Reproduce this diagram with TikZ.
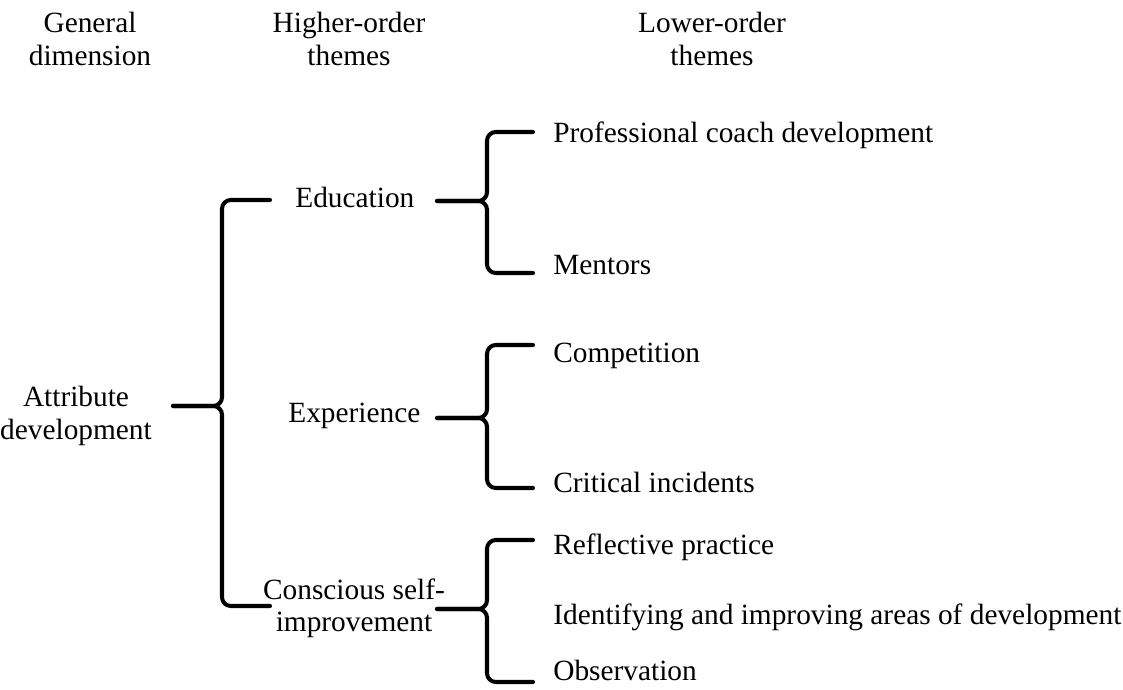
\documentclass[tikz,border=0pt]{standalone}
\usepackage{fontspec}
\setmainfont{Liberation Serif}

\begin{document}
\begin{tikzpicture}[font=\fontsize{16.7}{18.4}\selectfont,
  hdr/.style={align=center,inner sep=0pt,anchor=north},
  thm/.style={inner sep=0pt,anchor=base west},
  brace/.style={line width=2.3pt,rounded corners=5pt,line cap=round}]
\useasboundingbox (0,0) rectangle (22.46,13.8);

%============================== column heads ==============================
\node[hdr] (gen) at (1.80,13.56) {General\\dimension};
\node[hdr] (hig) at (6.98,13.56) {Higher-order\\themes};
\node[hdr] (low) at (14.24,13.56) {Lower-order\\themes};

%============================== the dimension and its themes ==============================
\node[hdr] (att) at (1.52,6.08) {Attribute\\development};

\node[thm] (edu) at (5.90,9.64) {Education};
\node[thm] (exp) at (5.76,5.34) {Experience};
\node[hdr] (csi) at (7.08,2.23) {Conscious self-\\improvement};

\node[thm] (pcd) at (11.06,10.94) {Professional coach development};
\node[thm] (men) at (11.06,8.30) {Mentors};
\node[thm] (com) at (11.06,6.54) {Competition};
\node[thm] (cri) at (11.06,3.94) {Critical incidents};
\node[thm] (ref) at (11.06,2.70) {Reflective practice};
\node[thm] (iam) at (11.06,1.30) {Identifying and improving areas of development};
\node[thm] (obs) at (11.06,0.20) {Observation};

%============================== braces ==============================
\coordinate (attT) at (3.46,5.68);
\coordinate (eduA) at (5.40,9.80);
\coordinate (csiA) at (5.40,1.68);
\draw[brace] (attT) -| (4.44,9.80) -- (eduA);
\draw[brace] (attT) -| (4.44,1.68) -- (csiA);

\coordinate (eduT) at (8.74,9.78);
\coordinate (pcdA) at (10.66,11.16);
\coordinate (menA) at (10.66,8.34);
\coordinate (expT) at (8.74,5.44);
\coordinate (comA) at (10.66,6.90);
\coordinate (criA) at (10.66,4.04);
\coordinate (csiT) at (8.74,1.62);
\coordinate (refA) at (10.66,3.00);
\coordinate (obsA) at (10.66,0.16);
\foreach \t/\a/\b in {eduT/pcdA/menA,expT/comA/criA,csiT/refA/obsA}{
  \draw[brace] (\t) -| ([xshift=-0.92cm]\a) -- (\a);
  \draw[brace] (\t) -| ([xshift=-0.92cm]\b) -- (\b);
}
\end{tikzpicture}
\end{document}
